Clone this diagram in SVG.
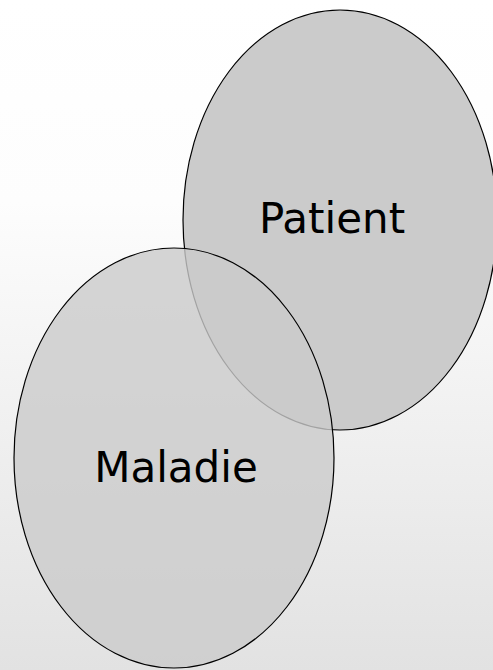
<svg xmlns="http://www.w3.org/2000/svg" width="493" height="670" viewBox="0 0 493 670">
  <defs>
    <linearGradient id="bg" x1="0" y1="0" x2="0" y2="1">
      <stop offset="0" stop-color="#ffffff"/>
      <stop offset="0.3" stop-color="#fdfdfd"/>
      <stop offset="1" stop-color="#e2e2e2"/>
    </linearGradient>
  </defs>
  <style>
    .shape { fill: #cbcbcb; stroke: #000000; stroke-width: 1.2; }
    .label { font-family: "DejaVu Sans", "Liberation Sans", sans-serif; font-size: 42px; fill: #000000; text-anchor: middle; }
  </style>
  <rect x="0" y="0" width="493" height="670" fill="url(#bg)"/>
  <g id="patient">
    <ellipse class="shape" cx="340" cy="220" rx="157" ry="210"/>
    <text class="label" x="332" y="233">Patient</text>
  </g>
  <g id="maladie">
    <ellipse class="shape" cx="174" cy="458" rx="160" ry="210" fill-opacity="0.8" style="fill-opacity:0.8"/>
    <text class="label" x="176" y="482">Maladie</text>
  </g>
  <g id="connectors"/>
</svg>
